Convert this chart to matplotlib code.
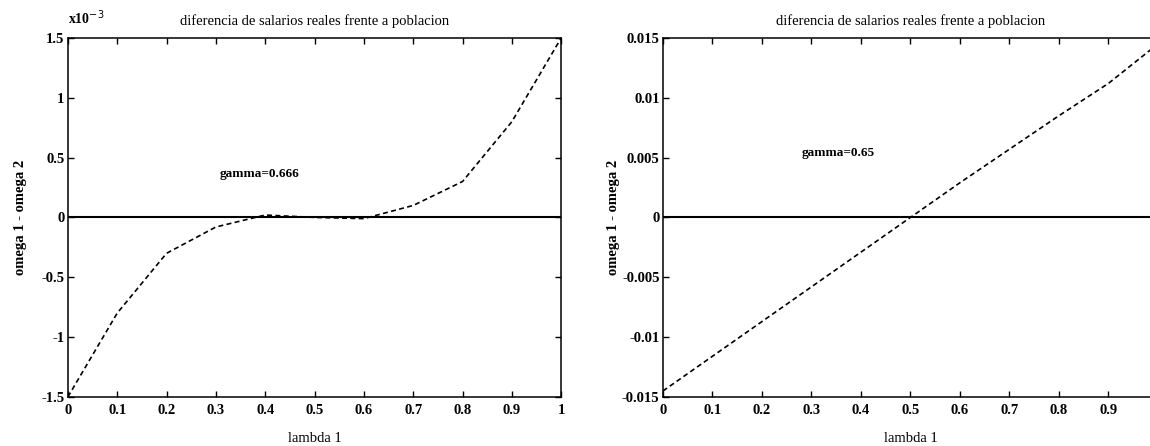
import numpy as np
import matplotlib.pyplot as plt
from matplotlib.ticker import FuncFormatter

plt.rcParams['font.family'] = ['Liberation Serif', 'DejaVu Serif']

# datos
lam_izq = [0.0, 0.1, 0.2, 0.3, 0.4, 0.5, 0.6, 0.7, 0.8, 0.9, 1.0]
dif_izq = [-1.5, -0.8, -0.3, -0.08, 0.02, 0.0, -0.01, 0.1, 0.3, 0.8, 1.5]   # x10^-3

lam_der = [0.0, 0.1, 0.2, 0.3, 0.4, 0.5, 0.6, 0.7, 0.8, 0.9, 0.985]
dif_der = [-0.0145, -0.0116, -0.0087, -0.0058, -0.0029, 0.0, 0.0029, 0.0057, 0.0085, 0.0112, 0.0140]

titulo = 'diferencia de salarios reales frente a poblacion'
xticks_izq = [0, 0.1, 0.2, 0.3, 0.4, 0.5, 0.6, 0.7, 0.8, 0.9, 1]
xticks_der = [0, 0.1, 0.2, 0.3, 0.4, 0.5, 0.6, 0.7, 0.8, 0.9]
yticks_izq = [-1.5, -1, -0.5, 0, 0.5, 1, 1.5]
yticks_der = [-0.015, -0.01, -0.005, 0, 0.005, 0.01, 0.015]

fig = plt.figure(figsize=(11.5, 4.46), dpi=100)
ax1 = fig.add_axes([0.059, 0.110, 0.429, 0.805])
ax2 = fig.add_axes([0.5765, 0.110, 0.4304, 0.805])

fmt = FuncFormatter(lambda v, p: ('%g' % v).replace('\u2212', '-'))

def estilo(ax, xt, yt, ylim, ypad):
    ax.set_xlim(0, 1)
    ax.set_ylim(*ylim)
    ax.set_xticks(xt)
    ax.set_yticks(yt)
    ax.xaxis.set_major_formatter(fmt)
    ax.yaxis.set_major_formatter(fmt)
    ax.tick_params(direction='in', length=4, width=1, top=True, right=True,
                   labelsize=10.5, pad=2.5)
    ax.tick_params(axis='x', pad=5)
    for lab in ax.get_xticklabels() + ax.get_yticklabels():
        lab.set_fontweight('bold')
    for s in ax.spines.values():
        s.set_linewidth(1.1)
    ax.axhline(0, color='black', lw=1.5)
    ax.set_title(titulo, fontsize=10.5, pad=9)
    ax.set_xlabel('lambda 1', fontsize=10.5, labelpad=11)
    ax.set_ylabel('omega 1 - omega 2', fontsize=10.5, fontweight='bold', labelpad=ypad)

ax1.plot(lam_izq, dif_izq, color='black', lw=1.2, ls=(0, (3, 2)))
estilo(ax1, xticks_izq, yticks_izq, (-1.5, 1.5), 10)
ax1.text(0.0, 1.03, 'x10$^{-3}$', transform=ax1.transAxes, fontsize=10,
         fontweight='bold', ha='left', va='bottom')
ax1.text(0.307, 0.36, 'gamma=0.666', fontsize=9.5, fontweight='bold', va='center')

ax2.plot(lam_der, dif_der, color='black', lw=1.2, ls=(0, (3, 2)))
estilo(ax2, xticks_der, yticks_der, (-0.015, 0.015), 1)
ax2.text(0.28, 0.0054, 'gamma=0.65', fontsize=9.5, fontweight='bold', va='center')

fig.savefig('out.png', dpi=100)
